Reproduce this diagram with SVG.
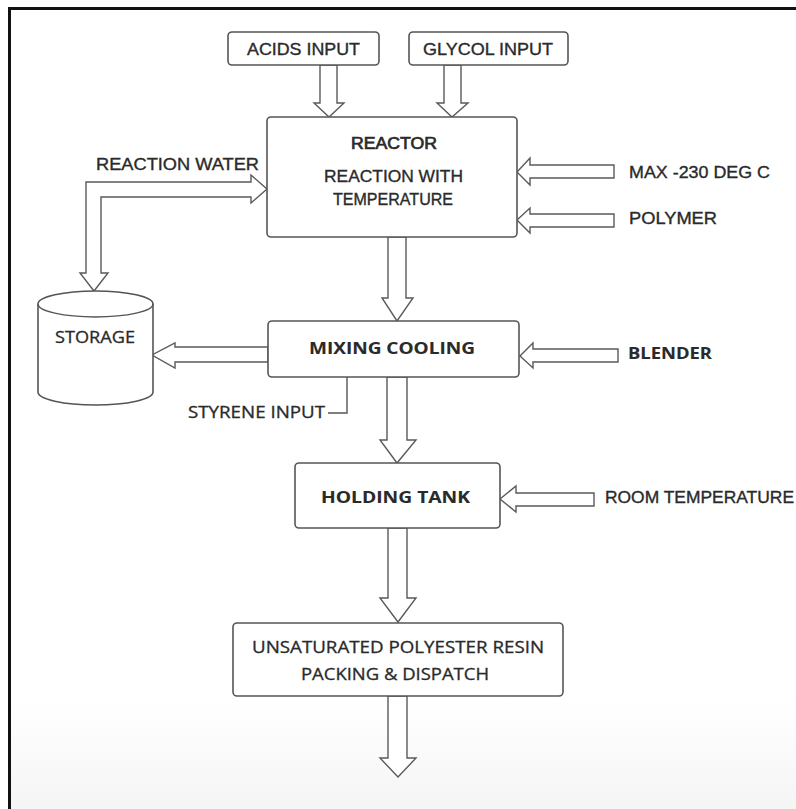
<svg xmlns="http://www.w3.org/2000/svg" width="796" height="809" viewBox="0 0 796 809">
  <defs>
    <linearGradient id="bg" x1="0" y1="0" x2="0" y2="1">
      <stop offset="0" stop-color="#ffffff"/>
      <stop offset="1" stop-color="#f5f5f5"/>
    </linearGradient>
    <style>
      .box { fill: #ffffff; stroke: #555555; stroke-width: 1.6; }
      .arr { fill: #ffffff; stroke: #5a5a5a; stroke-width: 1.4; stroke-linejoin: miter; }
      .ln { fill: none; stroke: #555555; stroke-width: 1.4; }
      .c { font-family: "Liberation Sans Narrow", "Liberation Sans", Arial, sans-serif; font-size: 17px; fill: #2a2a2a; stroke: #2a2a2a; stroke-width: 0.35; }
      .o { font-family: "Open Sans", "Liberation Sans", sans-serif; font-size: 16px; fill: #2a2a2a; stroke: #2a2a2a; stroke-width: 0.3; }
      .b { font-weight: bold; stroke-width: 0.1; }
      .h { stroke-width: 0.7; }
      .m { text-anchor: middle; }
    </style>
  </defs>
  <rect x="0" y="0" width="796" height="809" fill="#ffffff"/>
  <rect x="11" y="700" width="785" height="109" fill="url(#bg)"/>
  <path d="M9.5,809 V8.5 H796" fill="none" stroke="#111111" stroke-width="3"/>

  <g id="connectors">
    <polygon class="arr" points="320,65 337,65 337,103 344,103 329,117 314,103 320,103"/>
    <polygon class="arr" points="444,65 461,65 461,103 468,103 452,117 437,103 444,103"/>
    <polygon class="arr" points="388,237 406,237 406,298 413,298 397,321 382,298 388,298"/>
    <polygon class="arr" points="387,377 407,377 407,440 416,440 397,463 380,440 387,440"/>
    <polygon class="arr" points="388,528 407,528 407,598 416,598 398,622 380,598 388,598"/>
    <polygon class="arr" points="388,696 407,696 407,758 416,758 398,777 380,758 388,758"/>
    <polygon class="arr" points="268,347 175,347 175,343 152,355 175,368 175,362 268,362"/>
    <polygon class="arr" points="520,356 533,343 533,349 618,349 618,362 533,362 533,368"/>
    <polygon class="arr" points="517,172 530,158 530,165 614,165 614,178 530,178 530,185"/>
    <polygon class="arr" points="517,220 530,208 530,214 614,214 614,227 530,227 530,233"/>
    <polygon class="arr" points="500,499 516,486 516,493 594,493 594,506 516,506 516,512"/>
    <polygon class="arr" points="267,189 251,175 251,182 86,182 86,273 80,273 94,291 108,273 101,273 101,197 251,197 251,203"/>
    <polyline class="ln" points="347,377 347,413 328,413"/>
  </g>

  <g id="acids">
    <rect class="box" x="228" y="32" width="151" height="33" rx="4"/>
    <text class="c m" x="303.5" y="55" textLength="113" lengthAdjust="spacingAndGlyphs">ACIDS INPUT</text>
  </g>
  <g id="glycol">
    <rect class="box" x="409" y="32" width="159" height="33" rx="4"/>
    <text class="c m" x="488" y="55" textLength="130" lengthAdjust="spacingAndGlyphs">GLYCOL INPUT</text>
  </g>
  <g id="reactor">
    <rect class="box" x="267" y="117" width="250" height="120" rx="4"/>
    <text class="c m h" x="394" y="149" textLength="86" lengthAdjust="spacingAndGlyphs">REACTOR</text>
    <text class="c m" x="393.5" y="182" textLength="139" lengthAdjust="spacingAndGlyphs">REACTION WITH</text>
    <text class="c m" x="393" y="205" textLength="120" lengthAdjust="spacingAndGlyphs">TEMPERATURE</text>
  </g>
  <g id="reaction-water">
    <text class="c" x="96" y="170" textLength="163" lengthAdjust="spacingAndGlyphs">REACTION WATER</text>
  </g>
  <g id="max-temp">
    <text class="c" x="629" y="178" textLength="141" lengthAdjust="spacingAndGlyphs">MAX -230 DEG C</text>
  </g>
  <g id="polymer">
    <text class="c" x="629" y="224" textLength="88" lengthAdjust="spacingAndGlyphs">POLYMER</text>
  </g>
  <g id="storage">
    <path class="box" d="M38,304 A57.5,13 0 0 1 153,304 V392 A57.5,13 0 0 1 38,392 Z"/>
    <path class="ln" d="M38,304 A57.5,13 0 0 0 153,304"/>
    <text class="o m" x="95" y="343" textLength="80" lengthAdjust="spacingAndGlyphs">STORAGE</text>
  </g>
  <g id="mixing">
    <rect class="box" x="268" y="321" width="251" height="56" rx="4"/>
    <text class="o m b" x="392" y="354" textLength="166" lengthAdjust="spacingAndGlyphs">MIXING COOLING</text>
  </g>
  <g id="blender">
    <text class="o b" x="628" y="359" textLength="84" lengthAdjust="spacingAndGlyphs">BLENDER</text>
  </g>
  <g id="styrene">
    <text class="o" x="188" y="418" textLength="137" lengthAdjust="spacingAndGlyphs">STYRENE INPUT</text>
  </g>
  <g id="holding">
    <rect class="box" x="295" y="463" width="205" height="65" rx="4"/>
    <text class="o m b" x="395.5" y="503" textLength="149" lengthAdjust="spacingAndGlyphs">HOLDING TANK</text>
  </g>
  <g id="room-temp">
    <text class="c" x="605" y="503" textLength="189" lengthAdjust="spacingAndGlyphs">ROOM TEMPERATURE</text>
  </g>
  <g id="packing">
    <rect class="box" x="233" y="623" width="330" height="73" rx="4"/>
    <text class="o m" x="398" y="653" textLength="292" lengthAdjust="spacingAndGlyphs">UNSATURATED POLYESTER RESIN</text>
    <text class="o m" x="395" y="680" textLength="188" lengthAdjust="spacingAndGlyphs">PACKING &amp; DISPATCH</text>
  </g>
</svg>
